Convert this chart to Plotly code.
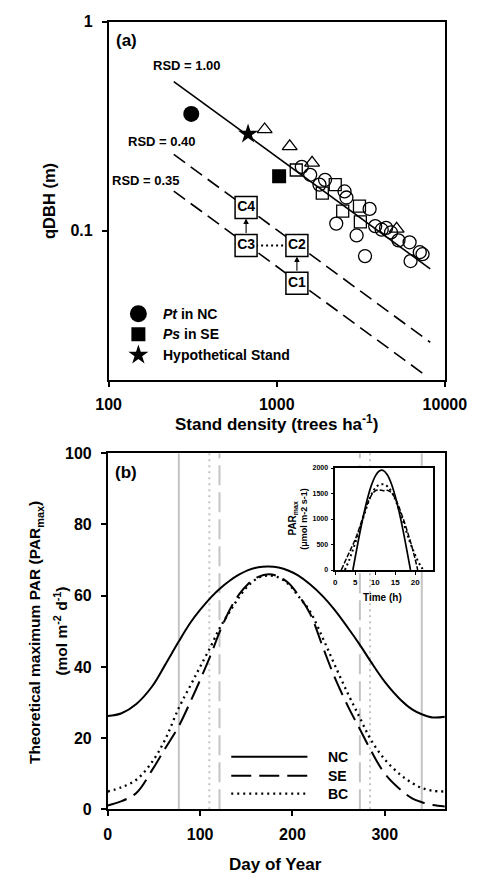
import numpy as np
import plotly.graph_objects as go

FONT = "Liberation Sans, Arial, sans-serif"
W, H = 491, 886

# ---------------- Panel (a) data ----------------
pt_nc_density = [310]
pt_nc_qdbh = [0.362]
ps_se_density = [1033]
ps_se_qdbh = [0.182]
hyp_density = [675]
hyp_qdbh = [0.290]

circle_density = [1409, 1581, 1938, 1795, 2531, 2597, 3568, 2259, 2986, 3350,
                  3852, 4210, 4783, 5297, 6170, 7366, 6252, 7096, 4470]
circle_qdbh = [0.202, 0.185, 0.175, 0.166, 0.154, 0.144, 0.127, 0.108, 0.0948, 0.0755,
               0.105, 0.101, 0.098, 0.0898, 0.0879, 0.0771, 0.0715, 0.0788, 0.103]
square_density = [1306, 1866, 2228, 2468, 3105, 3143]
square_qdbh = [0.195, 0.151, 0.166, 0.124, 0.131, 0.110]
triangle_density = [847, 1194, 1622, 5164]
triangle_qdbh = [0.305, 0.253, 0.211, 0.102]

rsd_labels = ["RSD = 1.00", "RSD = 0.40", "RSD = 0.35"]
rsd_density = [[244, 8185], [244, 8185], [244, 7586]]
rsd_qdbh = [[0.517, 0.0656], [0.2316, 0.0292], [0.1546, 0.0204]]

box_labels = ["C1", "C2", "C3", "C4"]
box_density = [1318, 1318, 657, 657]
box_qdbh = [0.056, 0.0848, 0.0848, 0.129]

legend_a_labels = ["<i>Pt</i> in NC", "<i>Ps</i> in SE", "Hypothetical Stand"]

# ---------------- Panel (b) data ----------------
day = [0, 15, 31, 48, 62, 77, 90, 100, 112, 121, 132, 142, 152, 163, 174,
       185, 196, 206, 219, 233, 245, 260, 273, 285, 300, 317, 330, 340, 352, 365]
par_nc = [26.2, 27.0, 29.6, 34.5, 40.5, 47.2, 52.6, 56.0, 59.6, 61.9, 64.2, 65.9, 67.2, 68.0, 68.2,
          67.9, 67.0, 65.7, 63.2, 59.8, 56.2, 51.0, 46.2, 41.4, 35.8, 30.8, 28.0, 26.7, 25.8, 26.0]
par_se = [1.1, 2.3, 4.6, 11.0, 17.0, 23.4, 30.5, 36.3, 43.7, 49.7, 56.0, 60.3, 63.3, 65.3, 66.0,
          65.4, 63.5, 60.3, 55.0, 45.5, 37.5, 29.0, 22.5, 16.5, 10.0, 5.5, 3.0, 2.0, 1.2, 0.8]
par_bc = [5.0, 6.2, 8.3, 13.3, 19.5, 28.5, 35.0, 40.0, 46.0, 50.8, 55.5, 59.5, 62.8, 65.0, 65.7,
          65.1, 63.2, 60.0, 55.6, 48.0, 41.0, 32.5, 25.7, 19.5, 14.0, 9.7, 7.3, 6.0, 5.2, 5.0]

gray_solid_days = [77, 340]
gray_dot_days = [110, 284]
gray_dash_days = [121, 273]

legend_b_labels = ["NC", "SE", "BC"]

# inset: diurnal PARmax
time_nc = [4.4, 5, 6, 7, 8, 9, 10, 11, 12, 13, 14, 15, 16, 17, 18, 18.8]
inset_nc = [0, 255, 671, 1053, 1386, 1654, 1842, 1943, 1952, 1869, 1697, 1444, 1125, 751, 339, 0]
time_se = [1.5, 3, 4, 5, 6, 7, 8, 9, 10, 11, 12, 13, 14, 15, 16, 17, 18, 19, 20, 20.6]
inset_se = [0, 260, 430, 600, 820, 1060, 1290, 1460, 1550, 1570, 1555, 1565, 1520, 1400, 1220,
            1000, 760, 500, 200, 0]
time_bc = [2.4, 3.5, 4.5, 5.5, 6.5, 7.5, 8.5, 9.5, 10.5, 11.5, 12.5, 13.5, 14.5, 15.5, 16.5,
           17.5, 18.5, 19.5, 20.5, 21.5, 22.0]
inset_bc = [0, 200, 420, 650, 900, 1150, 1380, 1550, 1650, 1680, 1670, 1600, 1470, 1280, 1060,
            820, 580, 380, 200, 60, 0]


# ---------------- helpers (layout pixel -> paper) ----------------
def px(x):
    return x / W


def py(y):
    return 1 - y / H


A_L, A_R, A_T, A_B = 103, 465, 14, 379
B_L, B_R, B_T, B_B = 102, 465, 454, 817
I_L, I_R, I_T, I_B = 347, 451.7, 469, 573

fig = go.Figure()

# ---- panel (a) ----
for xs, ys, dash in zip(rsd_density, rsd_qdbh, ["solid", "14px,7px", "14px,7px"]):
    fig.add_trace(go.Scatter(x=xs, y=ys, mode="lines", line=dict(color="black", width=1.6, dash=dash),
                             xaxis="x", yaxis="y", hoverinfo="skip"))

fig.add_trace(go.Scatter(x=circle_density, y=circle_qdbh, mode="markers",
                         marker=dict(symbol="circle-open", size=13, color="black", line=dict(width=1.3)),
                         xaxis="x", yaxis="y"))
fig.add_trace(go.Scatter(x=square_density, y=square_qdbh, mode="markers",
                         marker=dict(symbol="square-open", size=12, color="black", line=dict(width=1.3)),
                         xaxis="x", yaxis="y"))
fig.add_trace(go.Scatter(x=triangle_density, y=triangle_qdbh, mode="markers",
                         marker=dict(symbol="triangle-up-open", size=13, color="black", line=dict(width=1.3)),
                         xaxis="x", yaxis="y"))
fig.add_trace(go.Scatter(x=pt_nc_density, y=pt_nc_qdbh, mode="markers",
                         marker=dict(symbol="circle", size=16, color="black"), xaxis="x", yaxis="y"))
fig.add_trace(go.Scatter(x=ps_se_density, y=ps_se_qdbh, mode="markers",
                         marker=dict(symbol="square", size=14, color="black"), xaxis="x", yaxis="y"))
fig.add_trace(go.Scatter(x=hyp_density, y=hyp_qdbh, mode="markers",
                         marker=dict(symbol="star", size=15, color="black"), xaxis="x", yaxis="y"))

# dotted link C3 - C2
fig.add_trace(go.Scatter(x=[box_density[2], box_density[1]], y=[box_qdbh[2], box_qdbh[1]], mode="lines",
                         line=dict(color="black", width=2, dash="2px,3px"), xaxis="x", yaxis="y"))
# boxes
fig.add_trace(go.Scatter(x=box_density, y=box_qdbh, mode="markers+text", text=box_labels,
                         textposition="middle center",
                         textfont=dict(family=FONT, size=14, color="black", weight="bold"),
                         marker=dict(symbol="square", size=22, color="white", line=dict(color="black", width=1.5)),
                         xaxis="x", yaxis="y"))

# legend markers for panel (a) in an overlay axis
leg_y = [(A_B - 311.7) / (A_B - A_T), (A_B - 332.7) / (A_B - A_T), (A_B - 353.7) / (A_B - A_T)]
leg_x = (135 - A_L) / (A_R - A_L)
for sym, size, yy in zip(["circle", "square", "star"], [17, 14, 15], leg_y):
    fig.add_trace(go.Scatter(x=[leg_x], y=[yy], mode="markers", marker=dict(symbol=sym, size=size, color="black"),
                             xaxis="x4", yaxis="y4"))

# ---- panel (b) ----
for days, dash in [(gray_solid_days, "solid"), (gray_dot_days, "2px,4px"), (gray_dash_days, "20px,7px")]:
    for d in days:
        fig.add_trace(go.Scatter(x=[d, d], y=[0, 100], mode="lines",
                                 line=dict(color="#c4c4c4", width=2, dash=dash), xaxis="x2", yaxis="y2"))

fig.add_trace(go.Scatter(x=day, y=par_nc, mode="lines", line=dict(color="black", width=2, shape="spline"),
                         xaxis="x2", yaxis="y2"))
fig.add_trace(go.Scatter(x=day, y=par_se, mode="lines",
                         line=dict(color="black", width=2, dash="20px,8px", shape="spline"),
                         xaxis="x2", yaxis="y2"))
fig.add_trace(go.Scatter(x=day, y=par_bc, mode="lines",
                         line=dict(color="black", width=2.3, dash="2px,4px", shape="spline"),
                         xaxis="x2", yaxis="y2"))

# ---- inset ----
INSET_XR = [0, 24.3]
INSET_YR = [0, 2000]
fig.add_trace(go.Scatter(x=[INSET_XR[0], INSET_XR[1], INSET_XR[1], INSET_XR[0], INSET_XR[0]],
                         y=[INSET_YR[0], INSET_YR[0], INSET_YR[1], INSET_YR[1], INSET_YR[0]],
                         mode="lines", fill="toself", fillcolor="white", line=dict(width=0),
                         xaxis="x3", yaxis="y3", hoverinfo="skip"))
fig.add_trace(go.Scatter(x=time_nc, y=inset_nc, mode="lines", line=dict(color="black", width=1.7, shape="spline"),
                         xaxis="x3", yaxis="y3"))
fig.add_trace(go.Scatter(x=time_se, y=inset_se, mode="lines",
                         line=dict(color="black", width=1.5, dash="5px,2px", shape="spline"),
                         xaxis="x3", yaxis="y3"))
fig.add_trace(go.Scatter(x=time_bc, y=inset_bc, mode="lines",
                         line=dict(color="black", width=2, dash="2px,3px", shape="spline"),
                         xaxis="x3", yaxis="y3"))

tickfont = dict(family=FONT, size=16, color="black", weight="bold")
axis_common = dict(showline=True, linecolor="black", linewidth=1.6, mirror=True, ticks="outside",
                   ticklen=5, tickwidth=1.5, tickcolor="black", showgrid=False, zeroline=False,
                   tickfont=tickfont)

fig.update_layout(
    width=W, height=H, margin=dict(l=0, r=0, t=0, b=0),
    paper_bgcolor="white", plot_bgcolor="white", showlegend=False,
    font=dict(family=FONT, color="black"),
    xaxis=dict(axis_common, type="log", range=[2, 4], domain=[px(A_L), px(A_R)], anchor="y",
               tickvals=[100, 1000, 10000], ticktext=["100", "1000", "10000"], ticklabelstandoff=4),
    yaxis=dict(axis_common, type="log", range=[-1.714, 0], domain=[py(A_B), py(A_T)], anchor="x",
               tickvals=[0.1, 1], ticktext=["0.1", "1"], ticklabelstandoff=6),
    xaxis2=dict(axis_common, range=[0, 365], domain=[px(B_L), px(B_R)], anchor="y2",
                tickvals=[0, 100, 200, 300], ticklabelstandoff=5),
    yaxis2=dict(axis_common, range=[0, 100], domain=[py(B_B), py(B_T)], anchor="x2",
                tickvals=[0, 20, 40, 60, 80, 100], ticklabelstandoff=6),
    xaxis3=dict(axis_common, range=INSET_XR, domain=[px(I_L), px(I_R)], anchor="y3", ticklen=3,
                tickwidth=1, linewidth=1.5, tickvals=[0, 5, 10, 15, 20],
                tickfont=dict(family=FONT, size=8, color="black", weight="bold"), ticklabelstandoff=1),
    yaxis3=dict(axis_common, range=INSET_YR, domain=[py(I_B), py(I_T)], anchor="x3", ticklen=3,
                tickwidth=1, linewidth=1.5, tickvals=[0, 500, 1000, 1500, 2000],
                tickfont=dict(family=FONT, size=7, color="black", weight="bold"), ticklabelstandoff=1),
    xaxis4=dict(range=[0, 1], overlaying="x", anchor="y4", visible=False),
    yaxis4=dict(range=[0, 1], overlaying="y", anchor="x4", visible=False),
)


def bold(s):
    return dict(family=FONT, size=s, color="black", weight="bold")


def text_ann(x, y, text, size, angle=0, xanchor="center", xref="paper", yref="paper", **kw):
    d = dict(x=x, y=y, xref=xref, yref=yref, text=text, showarrow=False, textangle=angle,
             xanchor=xanchor, yanchor="middle", font=bold(size))
    d.update(kw)
    return d


ann = []
# panel labels
ann.append(text_ann(px(121.7), py(32.7), "(a)", 17))
ann.append(text_ann(px(121.7), py(473.3), "(b)", 17))
# RSD labels
for lab, xs, ys, (dx, dy) in zip(rsd_labels, rsd_density, rsd_qdbh, [(13, 16), (-12, 13), (-28, 11)]):
    ann.append(text_ann(np.log10(xs[0]), np.log10(ys[0]), lab, 13, xref="x", yref="y", xshift=dx, yshift=dy))
# arrows C1->C2, C3->C4
for i_from, i_to in [(0, 1), (2, 3)]:
    ann.append(dict(x=np.log10(box_density[i_to]), y=np.log10(box_qdbh[i_to]),
                    ax=np.log10(box_density[i_from]), ay=np.log10(box_qdbh[i_from]),
                    xref="x", yref="y", axref="x", ayref="y", text="", showarrow=True,
                    arrowhead=2, arrowsize=1, arrowwidth=1.1, arrowcolor="black",
                    standoff=11, startstandoff=11))
# legend (a) texts
for lab, yy in zip(legend_a_labels, leg_y):
    ann.append(text_ann((159 - A_L) / (A_R - A_L), yy, lab, 14, xanchor="left", xref="x4", yref="y4"))
# axis titles panel (a)
ann.append(text_ann(px(284), py(423), "Stand density (trees ha<sup>-1</sup>)", 17))
ann.append(text_ann(px(38), py(196.5), "qDBH (m)", 16.5, angle=-90))
# axis titles panel (b)
ann.append(text_ann(px(283), py(873), "Day of Year", 17))
ann.append(text_ann(px(25), py(637), "Theoretical maximum PAR (PAR<sub>max</sub>)", 15.5, angle=-90))
ann.append(text_ann(px(52), py(635.5), "(mol m<sup>-2</sup> d<sup>-1</sup>)", 15.5, angle=-90))
# inset titles
ann.append(text_ann(px(301), py(521), "PAR<sub>max</sub>", 10, angle=-90))
ann.append(text_ann(px(313), py(521), "(μmol m-2 s-1)", 9, angle=-90))
ann.append(text_ann(px(398.3), py(600.7), "Time (h)", 10))

# legend (b): line samples + labels
shapes = []
leg_b_y = [(B_B - 763.3) / (B_B - B_T), (B_B - 782.7) / (B_B - B_T), (B_B - 801) / (B_B - B_T)]
x0 = (235 - B_L) / (B_R - B_L)
x1 = (317 - B_L) / (B_R - B_L)
for lab, yy, dash, wdt in zip(legend_b_labels, leg_b_y, ["solid", "20px,8px", "2px,4px"], [2, 2, 2.3]):
    shapes.append(dict(type="line", xref="x2 domain", yref="y2 domain", x0=x0, x1=x1, y0=yy, y1=yy,
                       line=dict(color="black", width=wdt, dash=dash)))
    ann.append(text_ann((336.7 - B_L) / (B_R - B_L), yy, lab, 14, xanchor="left",
                        xref="x2 domain", yref="y2 domain"))

fig.update_layout(annotations=ann, shapes=shapes)
fig.write_html("out.html")
